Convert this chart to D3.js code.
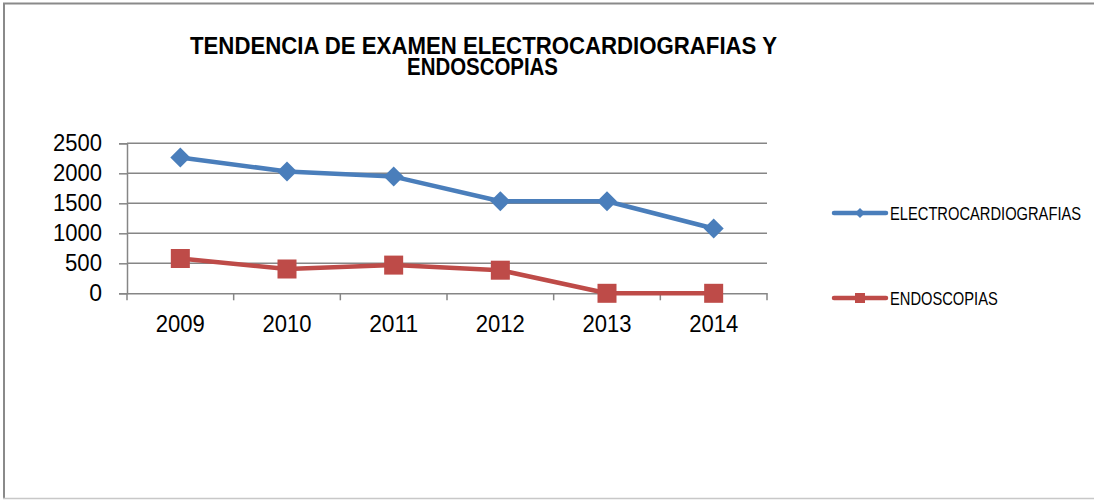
<!DOCTYPE html>
<html>
<head>
<meta charset="utf-8">
<script src="https://cdn.jsdelivr.net/npm/d3@7"></script>
<style>
  html, body { margin: 0; padding: 0; background: #fff; }
  svg { display: block; }
</style>
</head>
<body>
<script>
// Yearly exam counts
const years = ["2009", "2010", "2011", "2012", "2013", "2014"];
const electrocardiografias = [2265, 2030, 1945, 1535, 1535, 1080];
const endoscopias = [580, 405, 470, 385, 0, 0];
const yTicks = [0, 500, 1000, 1500, 2000, 2500];
const seriesNames = ["ELECTROCARDIOGRAFIAS", "ENDOSCOPIAS"];
const titleLines = ["TENDENCIA DE EXAMEN ELECTROCARDIOGRAFIAS Y", "ENDOSCOPIAS"];

const W = 1094, H = 500;
const plot = { left: 127, right: 767, top: 143.3, bottom: 293.3 };
const axisColor = "#868686";
const blue = "#4a7ebb", red = "#be4b48";
const font = "'Liberation Sans', Arial, sans-serif";

const svg = d3.select("body").append("svg")
  .attr("width", W).attr("height", H);

// chart frame
svg.append("line").attr("x1", 3).attr("x2", W).attr("y1", 3.5).attr("y2", 3.5)
  .attr("stroke", "#8a8a8a").attr("stroke-width", 2);
svg.append("line").attr("x1", 4).attr("x2", 4).attr("y1", 3).attr("y2", 498)
  .attr("stroke", "#8a8a8a").attr("stroke-width", 2);
svg.append("line").attr("x1", 3).attr("x2", W).attr("y1", 498.5).attr("y2", 498.5)
  .attr("stroke", "#c8c8c8").attr("stroke-width", 1.5);

// title: two condensed bold lines
const titleSpans = [
  { x: 190, y: 54.3, len: 587 },
  { x: 407, y: 74.5, len: 151 }
];
svg.append("g").selectAll("text").data(titleLines).join("text")
  .attr("x", (d, i) => titleSpans[i].x).attr("y", (d, i) => titleSpans[i].y)
  .attr("textLength", (d, i) => titleSpans[i].len)
  .attr("lengthAdjust", "spacingAndGlyphs")
  .attr("font-family", font).attr("font-weight", "bold").attr("font-size", 23.5)
  .attr("fill", "#000")
  .text(d => d);

const x = d3.scaleBand().domain(years).range([plot.left, plot.right]);
const y = d3.scaleLinear().domain([0, 2500]).range([plot.bottom, plot.top]);

// horizontal gridlines
svg.append("g").selectAll("line").data(yTicks.filter(d => d > 0)).join("line")
  .attr("x1", plot.left).attr("x2", plot.right)
  .attr("y1", d => y(d)).attr("y2", d => y(d))
  .attr("stroke", axisColor).attr("stroke-width", 1.5);

// y axis
const yAxis = svg.append("g")
  .attr("transform", `translate(${plot.left},0)`)
  .call(d3.axisLeft(y).tickValues(yTicks).tickSize(8).tickPadding(17).tickFormat(d3.format("d")));
yAxis.select(".domain").attr("stroke", axisColor).attr("stroke-width", 1.5);
yAxis.selectAll(".tick line").attr("stroke", axisColor).attr("stroke-width", 1.5);
yAxis.selectAll(".tick text")
  .attr("font-family", font).attr("font-size", 23).attr("fill", "#000")
  .attr("textLength", 49).attr("lengthAdjust", "spacingAndGlyphs");
yAxis.selectAll(".tick text").filter(d => d === 0).attr("textLength", null);
yAxis.selectAll(".tick text").filter(d => d === 500).attr("textLength", 37);

// x axis, with tick marks between categories
const xAxis = svg.append("g")
  .attr("transform", `translate(0,${plot.bottom})`)
  .call(d3.axisBottom(x).tickSize(0).tickPadding(22));
xAxis.select(".domain").attr("stroke", axisColor).attr("stroke-width", 1.5);
xAxis.selectAll(".tick text")
  .attr("font-family", font).attr("font-size", 23).attr("fill", "#000")
  .attr("textLength", 49).attr("lengthAdjust", "spacingAndGlyphs");
const edges = years.map(d => x(d)).concat([x(years[years.length - 1]) + x.bandwidth()]);
xAxis.selectAll(".sep").data(edges).join("line")
  .attr("class", "sep")
  .attr("x1", d => d).attr("x2", d => d).attr("y1", 0).attr("y2", 7)
  .attr("stroke", axisColor).attr("stroke-width", 1.5);

const cx = d => x(d) + x.bandwidth() / 2;
const line = d3.line().x((d, i) => cx(years[i])).y(d => y(d));

// ELECTROCARDIOGRAFIAS
svg.append("path").datum(electrocardiografias)
  .attr("d", line).attr("fill", "none")
  .attr("stroke", blue).attr("stroke-width", 4.5).attr("stroke-linejoin", "round");
svg.append("g").selectAll("path").data(electrocardiografias).join("path")
  .attr("transform", (d, i) => `translate(${cx(years[i])},${y(d)})`)
  .attr("d", "M0,-10L10,0L0,10L-10,0Z")
  .attr("fill", blue);

// ENDOSCOPIAS
svg.append("path").datum(endoscopias)
  .attr("d", line).attr("fill", "none")
  .attr("stroke", red).attr("stroke-width", 4.5).attr("stroke-linejoin", "round");
svg.append("g").selectAll("rect").data(endoscopias).join("rect")
  .attr("x", (d, i) => cx(years[i]) - 9.5).attr("y", d => y(d) - 9.5)
  .attr("width", 19).attr("height", 19)
  .attr("fill", red);

// legend (labels squeezed horizontally to a narrow face)
const legend = svg.append("g");
const legendRows = [
  { name: seriesNames[0], color: blue, y: 213, shape: "diamond" },
  { name: seriesNames[1], color: red, y: 298, shape: "square" }
];
const legendSqueeze = 0.84;
legendRows.forEach(r => {
  legend.append("line")
    .attr("x1", 834).attr("x2", 886).attr("y1", r.y).attr("y2", r.y)
    .attr("stroke", r.color).attr("stroke-width", 4.5).attr("stroke-linecap", "round");
  if (r.shape === "diamond") {
    legend.append("path")
      .attr("transform", `translate(860,${r.y})`)
      .attr("d", "M0,-5L5,0L0,5L-5,0Z").attr("fill", r.color);
  } else {
    legend.append("rect")
      .attr("x", 855).attr("y", r.y - 5).attr("width", 10).attr("height", 10)
      .attr("fill", r.color);
  }
  legend.append("text")
    .attr("transform", `translate(890,${r.y + 6.5}) scale(${legendSqueeze},1)`)
    .attr("font-family", font).attr("font-size", 17.5).attr("fill", "#000")
    .text(r.name);
});
</script>
</body>
</html>
